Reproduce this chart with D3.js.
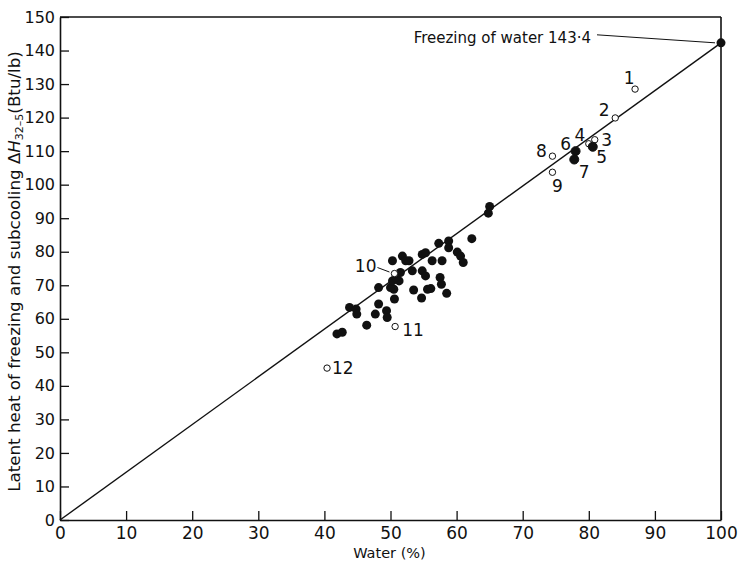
<!DOCTYPE html>
<html>
<head>
<meta charset="utf-8">
<script src="https://cdn.jsdelivr.net/npm/d3@7"></script>
<style>
  body { margin: 0; background: #fff; }
  text { font-family: "DejaVu Sans", sans-serif; fill: #111; }
</style>
</head>
<body>
<div id="chart"></div>
<script>
// unnumbered samples (solid dots)
const waterPct   = [41.9, 42.7, 43.8, 44.8, 44.9, 46.4, 47.7, 48.2, 49.4, 49.5, 48.2, 50.6, 50.5, 50.0, 50.3,
                    51.3, 50.8, 51.5, 50.3, 51.8, 52.8, 52.3, 53.3, 54.8, 55.3, 53.5, 55.6, 56.1, 54.7, 54.8,
                    55.3, 56.3, 57.8, 57.5, 57.7, 58.5, 57.3, 58.8, 58.8, 60.1, 60.6, 61.0, 62.3, 64.8, 65.0];
const latentHeat = [55.5, 56.0, 63.4, 62.9, 61.4, 58.1, 61.4, 64.4, 62.4, 60.4, 69.3, 65.9, 68.8, 69.3, 71.3,
                    71.3, 72.3, 73.8, 77.3, 78.7, 77.3, 77.3, 74.3, 74.3, 72.8, 68.6, 68.8, 69.0, 66.2, 79.2,
                    79.7, 77.3, 77.3, 72.3, 70.3, 67.6, 82.5, 83.2, 81.2, 79.9, 78.7, 76.8, 83.9, 91.5, 93.5];

// numbered samples
const sampleNo     = [1, 2, 3, 4, 5, 6, 7, 8, 9, 10, 11, 12];
const sampleWater  = [87.0, 84.0, 80.9, 80.0, 80.6, 78.0, 77.8, 74.5, 74.5, 50.6, 50.7, 40.4];
const sampleHeat   = [128.5, 119.9, 113.4, 112.2, 111.3, 110.0, 107.5, 108.5, 103.7, 73.5, 57.7, 45.3];
const sampleFilled = [false, false, false, false, true, true, true, false, false, false, false, false];

// pure water
const freezingWater = 100, freezingHeat = 142.3;
const freezingLabel = "Freezing of water 143·4";

const xTicks = [0, 10, 20, 30, 40, 50, 60, 70, 80, 90, 100];
const yTicks = [0, 10, 20, 30, 40, 50, 60, 70, 80, 90, 100, 110, 120, 130, 140, 150];

const margin = { top: 17, right: 18, bottom: 41, left: 60 },
      width  = 739 - margin.left - margin.right,
      height = 561 - margin.top - margin.bottom;

const svg = d3.select("#chart").append("svg")
              .attr("width", 739)
              .attr("height", 561)
              .append("g")
              .attr("transform", `translate(${margin.left},${margin.top})`);

const x = d3.scaleLinear().domain([0, 100]).range([0, width]);
const y = d3.scaleLinear().domain([0, 150]).range([height, 0]);

// axes, ticks pointing inwards
const yAxis = svg.append("g")
   .call(d3.axisLeft(y).tickValues(yTicks).tickSizeInner(-9).tickSizeOuter(0).tickPadding(5));
const xAxis = svg.append("g")
   .attr("transform", `translate(0, ${height})`)
   .call(d3.axisBottom(x).tickValues(xTicks).tickSizeInner(-9).tickSizeOuter(0).tickPadding(7));

[xAxis, yAxis].forEach(a => {
    a.select(".domain").attr("stroke", "#111").attr("stroke-width", 1.6);
    a.selectAll(".tick line").attr("stroke", "#111").attr("stroke-width", 1.3);
    a.selectAll(".tick text").attr("fill", "#111");
});
xAxis.selectAll(".tick text").style("font-size", "17px");
yAxis.selectAll(".tick text").style("font-size", "16px");

// top and right border
svg.append("line").attr("x1", 0).attr("x2", width).attr("y1", 0).attr("y2", 0)
   .attr("stroke", "#111").attr("stroke-width", 1.6);
svg.append("line").attr("x1", width).attr("x2", width).attr("y1", 0).attr("y2", height)
   .attr("stroke", "#111").attr("stroke-width", 1.6);

// line through origin and pure water
svg.append("line")
   .attr("x1", x(0)).attr("y1", y(0))
   .attr("x2", x(freezingWater)).attr("y2", y(freezingHeat))
   .attr("stroke", "#111").attr("stroke-width", 1.4);

// solid dots
svg.selectAll(".dot")
   .data(waterPct.map((w, i) => ({ w: w, h: latentHeat[i] })))
   .enter().append("circle")
   .attr("class", "dot")
   .attr("cx", d => x(d.w))
   .attr("cy", d => y(d.h))
   .attr("r", 4.5)
   .attr("fill", "#111");

// numbered samples
const samples = sampleNo.map((n, i) => ({ n: n, w: sampleWater[i], h: sampleHeat[i], filled: sampleFilled[i] }));

svg.selectAll(".sample")
   .data(samples)
   .enter().append("circle")
   .attr("class", "sample")
   .attr("cx", d => x(d.w))
   .attr("cy", d => y(d.h))
   .attr("r", d => d.filled ? 4.5 : 3.2)
   .attr("fill", d => d.filled ? "#111" : "#fff")
   .attr("stroke", "#111")
   .attr("stroke-width", 1);

// label placement relative to each point: dx, dy, anchor
const labelPlace = {
    1: [-6, -11, "middle"], 2: [-11, -8, "middle"], 3: [12, 0, "middle"], 4: [-9, -9, "middle"],
    5: [9, 10, "middle"], 6: [-10, -7, "middle"], 7: [10, 12, "middle"], 8: [-11, -5, "middle"],
    9: [5, 14, "middle"], 10: [-18, -8, "end"], 11: [7, 3, "start"], 12: [5, 0, "start"]
};

svg.selectAll(".sample-label")
   .data(samples)
   .enter().append("text")
   .attr("class", "sample-label")
   .attr("x", d => x(d.w) + labelPlace[d.n][0])
   .attr("y", d => y(d.h) + labelPlace[d.n][1])
   .attr("dy", "0.36em")
   .attr("text-anchor", d => labelPlace[d.n][2])
   .style("font-size", "17px")
   .text(d => d.n);

// leader for sample 10
const s10 = samples.find(d => d.n === 10);
svg.append("line")
   .attr("x1", x(s10.w) - 17).attr("y1", y(s10.h) - 6)
   .attr("x2", x(s10.w) - 5).attr("y2", y(s10.h) - 1.5)
   .attr("stroke", "#111").attr("stroke-width", 1);

// pure water point and its label
svg.append("circle")
   .attr("cx", x(freezingWater)).attr("cy", y(freezingHeat))
   .attr("r", 4.5).attr("fill", "#111");

svg.append("text")
   .attr("x", x(freezingWater) - 130)
   .attr("y", y(freezingHeat) - 5)
   .attr("dy", "0.35em")
   .attr("text-anchor", "end")
   .style("font-size", "15px")
   .text(freezingLabel);

svg.append("line")
   .attr("x1", x(freezingWater) - 124).attr("y1", y(freezingHeat) - 8)
   .attr("x2", x(freezingWater) - 6).attr("y2", y(freezingHeat))
   .attr("stroke", "#111").attr("stroke-width", 1);

// axis titles
svg.append("text")
   .attr("x", width / 2 - 1)
   .attr("y", height + 38)
   .attr("text-anchor", "middle")
   .style("font-size", "14.5px")
   .text("Water (%)");

const yTitle = svg.append("text")
   .attr("transform", `translate(${-40}, ${height / 2 + 3}) rotate(-90)`)
   .attr("text-anchor", "middle")
   .style("font-size", "16.7px");
yTitle.append("tspan").text("Latent heat of freezing and subcooling \u0394");
yTitle.append("tspan").style("font-style", "italic").text("H");
yTitle.append("tspan").attr("dy", 3).style("font-size", "11px").text("32\u20135");
yTitle.append("tspan").attr("dy", -3).text("(Btu/lb)");
</script>
</body>
</html>
